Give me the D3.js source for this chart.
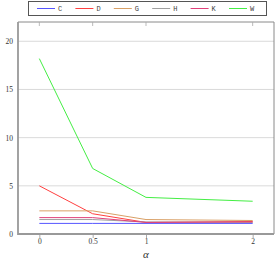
<!DOCTYPE html>
<html><head><meta charset="utf-8">
<script src="https://cdn.jsdelivr.net/npm/d3@7"></script>
<style>body{margin:0;background:#fff} text{fill:#333}</style>
</head><body>
<script>
const alphas = [0, 0.5, 1, 2];
const xTicks = [0, 0.5, 1, 2];
const yTicks = [0, 5, 10, 15, 20];
const seriesNames = ["C", "D", "G", "H", "K", "W"];
const seriesColors = ["#5555ff", "#ff4040", "#d9a066", "#a0a0a0", "#e0407a", "#44ee44"];
const C = [1.1, 1.1, 1.1, 1.1];
const D = [5.0, 2.1, 1.2, 1.3];
const G = [2.4, 2.4, 1.5, 1.4];
const H = [1.5, 1.5, 1.25, 1.2];
const K = [1.7, 1.7, 1.2, 1.25];
const W = [18.2, 6.8, 3.8, 3.4];
const seriesValues = [C, D, G, H, K, W];

const width = 275, height = 262;
const m = {left: 18, right: 274, top: 22, bottom: 234};
const svg = d3.select("body").append("svg").attr("width", width).attr("height", height);
const x = d3.scaleLinear().domain([-0.2, 2.2]).range([m.left, m.right]);
const y = d3.scaleLinear().domain([0, 22]).range([m.bottom, m.top]);
const serif = "'Liberation Serif', 'DejaVu Serif', serif";

// grid
svg.append("g").selectAll("line").data(yTicks.filter(d => d > 0)).join("line")
  .attr("x1", m.left).attr("x2", m.right)
  .attr("y1", d => y(d)).attr("y2", d => y(d))
  .attr("stroke", "#d0d0d0").attr("stroke-width", 0.8);

// frame top/right
svg.append("path")
  .attr("d", `M${m.left},${m.top}H${m.right}V${m.bottom}`)
  .attr("fill", "none").attr("stroke", "#8a8a8a").attr("stroke-width", 1);
// top ticks
svg.append("g").selectAll("line").data(xTicks).join("line")
  .attr("x1", d => x(d)).attr("x2", d => x(d))
  .attr("y1", m.top).attr("y2", m.top + 4)
  .attr("stroke", "#aaa").attr("stroke-width", 0.8);

// lines
const line = d3.line().x((d, i) => x(alphas[i])).y(d => y(d));
svg.append("g").selectAll("path").data(seriesValues).join("path")
  .attr("d", d => line(d)).attr("fill", "none")
  .attr("stroke", (d, i) => seriesColors[i]).attr("stroke-width", 1);

// axes
const xAxis = d3.axisBottom(x).tickValues(xTicks).tickSize(4).tickPadding(2).tickFormat(d3.format("~g"));
const gx = svg.append("g").attr("transform", `translate(0,${m.bottom})`).call(xAxis);
gx.select(".domain").remove();
gx.selectAll(".tick line").attr("stroke", "#aaa");
gx.selectAll("text").attr("font-family", serif).attr("font-size", 7.5)
  .attr("y", 10).attr("dy", 0).style("fill", "#333");

const yAxis = d3.axisLeft(y).tickValues(yTicks).tickSize(0).tickPadding(5);
const gy = svg.append("g").attr("transform", `translate(${m.left},0)`).call(yAxis);
gy.select(".domain").remove();
gy.selectAll("text").attr("font-family", serif).attr("font-size", 7.5).style("fill", "#333");

// thick left/bottom axis lines
svg.append("path")
  .attr("d", `M${m.left},${m.top}V${m.bottom}H${m.right}`)
  .attr("fill", "none").attr("stroke", "#999").attr("stroke-width", 1.8);

// x label
svg.append("text").attr("x", x(1)).attr("y", 258).attr("text-anchor", "middle")
  .attr("font-family", serif).attr("font-style", "italic").attr("font-size", 11)
  .style("fill", "#333").text("α");

// legend
const lg = svg.append("g");
lg.append("rect").attr("x", 28.5).attr("y", 1.5).attr("width", 238).attr("height", 14)
  .attr("fill", "#fff").attr("stroke", "#555").attr("stroke-width", 1);
const lx = d3.scalePoint().domain(seriesNames).range([37, 229]);
const items = lg.selectAll("g").data(seriesNames).join("g")
  .attr("transform", d => `translate(${lx(d)},8.5)`);
items.append("line").attr("x1", 0).attr("x2", 18).attr("y1", 0).attr("y2", 0)
  .attr("stroke", (d, i) => seriesColors[i]).attr("stroke-width", 1);
items.append("text").attr("x", 21).attr("y", 2.5).text(d => d)
  .attr("font-family", "'Liberation Mono', 'DejaVu Sans Mono', monospace")
  .attr("font-size", 7).style("fill", "#444");
</script>
</body></html>
